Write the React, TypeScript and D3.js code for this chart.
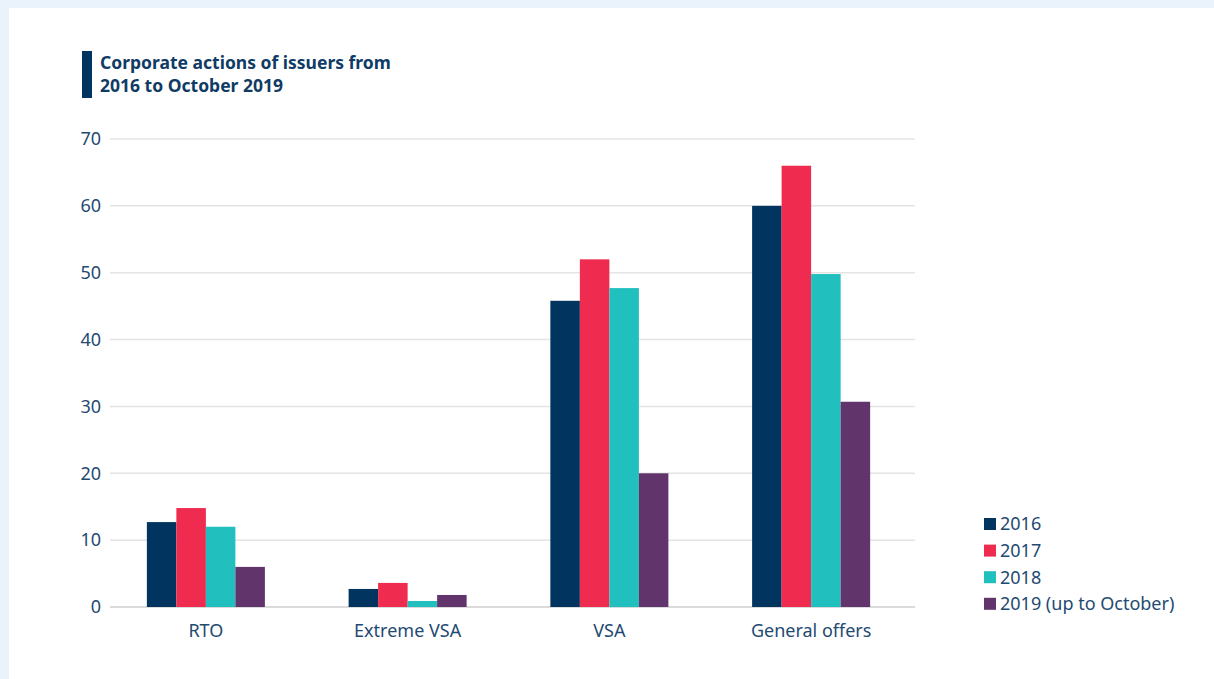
import React from "react";
import * as d3 from "d3";

const categories = ["RTO", "Extreme VSA", "VSA", "General offers"];
const seriesNames = ["2016", "2017", "2018", "2019 (up to October)"];
const values2016 = [12.7, 2.7, 45.8, 60];
const values2017 = [14.8, 3.6, 52, 66];
const values2018 = [12, 0.9, 47.7, 49.8];
const values2019 = [6, 1.8, 20, 30.7];
const seriesValues = [values2016, values2017, values2018, values2019];
const yTicks = [0, 10, 20, 30, 40, 50, 60, 70];
const colors = ["#01355f", "#ef2b4f", "#21bfbd", "#61346b"];
const titleLines = ["Corporate actions of issuers from", "2016 to October 2019"];

const W = 1214;
const H = 679;
const FONT = "'Noto Sans', 'Open Sans', sans-serif";
const TEXT = "#1f4a72";

export default function App() {
  React.useEffect(() => {
    document.body.style.margin = "0";
  }, []);

  const x0 = d3
    .scaleBand<string>()
    .domain(categories)
    .range([105, 912])
    .paddingInner(0.415)
    .paddingOuter(0.2075);
  const x1 = d3
    .scaleBand<string>()
    .domain(seriesNames)
    .range([0, x0.bandwidth()])
    .padding(0);
  const y = d3.scaleLinear().domain([0, 70]).range([607, 139]);

  return (
    <svg
      width={W}
      height={H}
      style={{ display: "block", position: "absolute", left: 0, top: 0 }}
      fontFamily={FONT}
    >
      <rect x={0} y={0} width={W} height={H} fill="#eaf3fb" />
      <rect x={9} y={8} width={W - 9} height={H - 8} fill="#ffffff" />

      {/* Title */}
      <rect x={82} y={51} width={10} height={47} fill="#01355f" />
      {titleLines.map((t, i) => (
        <text
          key={t}
          x={100}
          y={69 + i * 22.5}
          fontSize={17.5}
          fontWeight={700}
          fill="#0f3b64"
        >
          {t}
        </text>
      ))}

      {/* Grid */}
      {yTicks.map((t) => (
        <g key={t}>
          <line
            x1={110}
            x2={915}
            y1={y(t)}
            y2={y(t)}
            stroke={t === 0 ? "#cfcfcf" : "#e4e4e4"}
            strokeWidth={1.5}
          />
          <text
            x={101}
            y={y(t)}
            dy="0.35em"
            textAnchor="end"
            fontSize={18}
            fill={TEXT}
          >
            {t}
          </text>
        </g>
      ))}

      {/* Bars */}
      {categories.map((c, ci) => (
        <g key={c} transform={`translate(${x0(c)},0)`}>
          {seriesNames.map((s, si) => {
            const v = seriesValues[si][ci];
            return (
              <rect
                key={s}
                x={x1(s)}
                y={y(v)}
                width={x1.bandwidth()}
                height={y(0) - y(v)}
                fill={colors[si]}
              />
            );
          })}
          <text
            x={x0.bandwidth() / 2}
            y={637}
            textAnchor="middle"
            fontSize={18}
            fill={TEXT}
          >
            {c}
          </text>
        </g>
      ))}

      {/* Legend */}
      {seriesNames.map((s, i) => (
        <g key={s} transform={`translate(984,${518 + i * 26.6})`}>
          <rect x={0} y={0} width={12} height={12} fill={colors[i]} />
          <text x={16} y={6} dy="0.35em" fontSize={18} fill={TEXT}>
            {s}
          </text>
        </g>
      ))}
    </svg>
  );
}
